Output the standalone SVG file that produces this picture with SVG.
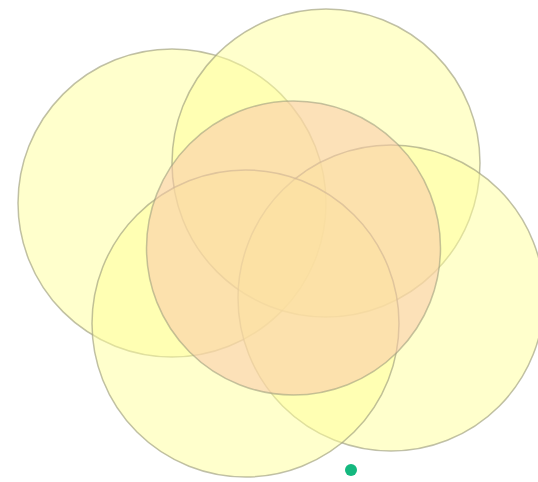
<svg xmlns="http://www.w3.org/2000/svg" width="538" height="482" viewBox="0 0 538 482">
<style>
.y{fill:#ffff99;fill-opacity:0.5;stroke:#9e9e7e;stroke-opacity:0.65;stroke-width:1.5}
.o{fill:#f9c9a8;fill-opacity:0.55;stroke:#9e9e7e;stroke-opacity:0.6;stroke-width:1.5}
</style>
<rect width="538" height="482" fill="#ffffff"/>
<g id="circle-left"><circle class="y" cx="172" cy="203" r="154"/></g>
<g id="circle-top"><circle class="y" cx="326" cy="163" r="154"/></g>
<g id="circle-right"><circle class="y" cx="391" cy="298" r="153"/></g>
<g id="circle-bottom"><circle class="y" cx="245.5" cy="323.5" r="153.5"/></g>
<g id="circle-center"><circle class="o" cx="293.5" cy="248" r="147"/></g>
<g id="dot"><circle cx="351" cy="470" r="6" fill="#14b87f"/></g>
<g id="connectors"/>
</svg>
